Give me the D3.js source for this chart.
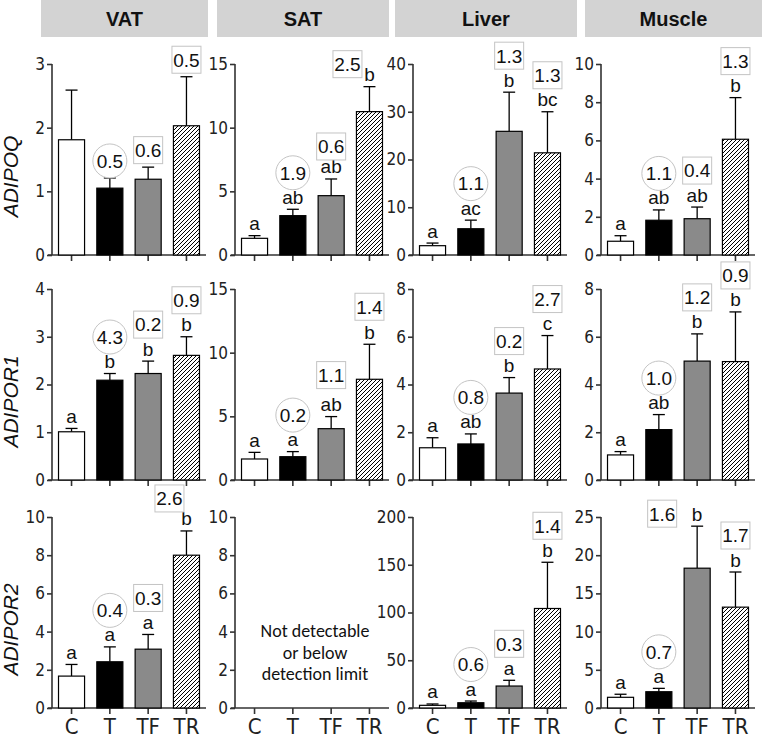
<!DOCTYPE html>
<html><head><meta charset="utf-8">
<script src="https://cdn.jsdelivr.net/npm/d3@7"></script>
<style>body{margin:0;background:#fff} svg{display:block}</style>
</head><body><svg id="c" width="762" height="739"></svg>
<script>
// ---------------- data ----------------
const groups = ["C", "T", "TF", "TR"];
const tissues = ["VAT", "SAT", "Liver", "Muscle"];
const genes = ["ADIPOQ", "ADIPOR1", "ADIPOR2"];

// axis maxima and tick steps [gene][tissue]
const yMax  = [[3, 15, 40, 10], [4, 15, 8, 8], [10, 10, 200, 25]];
const yStep = [[1, 5, 10, 2], [1, 5, 2, 2], [2, 2, 50, 5]];

// ADIPOQ  (VAT, SAT, Liver, Muscle)
const adipoqMean = [[1.81, 1.05, 1.19, 2.03], [1.31, 3.09, 4.66, 11.26], [1.95, 5.5, 25.9, 21.4], [0.72, 1.82, 1.90, 6.06]];
const adipoqSem  = [[0.78, 0.16, 0.19, 0.77], [0.21, 0.50, 1.31, 1.96], [0.55, 1.8, 8.2, 8.6], [0.29, 0.54, 0.61, 2.18]];
const adipoqLetters = [["", "", "", ""], ["a", "ab", "ab", "b"], ["a", "ac", "b", "bc"], ["a", "ab", "ab", "b"]];
const adipoqFold = [[null, "0.5", "0.6", "0.5"], [null, "1.9", "0.6", "2.5"], [null, "1.1", "1.3", "1.3"], [null, "1.1", "0.4", "1.3"]];

// ADIPOR1
const adipor1Mean = [[1.01, 2.09, 2.23, 2.61], [1.65, 1.83, 4.03, 7.91], [1.35, 1.51, 3.64, 4.65], [1.05, 2.11, 4.98, 4.96]];
const adipor1Sem  = [[0.07, 0.14, 0.26, 0.39], [0.52, 0.40, 0.95, 2.75], [0.42, 0.42, 0.65, 1.40], [0.14, 0.63, 1.14, 2.08]];
const adipor1Letters = [["a", "b", "b", "b"], ["a", "a", "ab", "b"], ["a", "ab", "b", "c"], ["a", "ab", "b", "b"]];
const adipor1Fold = [[null, "4.3", "0.2", "0.9"], [null, "0.2", "1.1", "1.4"], [null, "0.8", "0.2", "2.7"], [null, "1.0", "1.2", "0.9"]];

// ADIPOR2 (SAT not detectable)
const adipor2Mean = [[1.67, 2.42, 3.08, 8.0], null, [2.8, 5.5, 23, 104.2], [1.4, 2.13, 18.3, 13.2]];
const adipor2Sem  = [[0.61, 0.78, 0.77, 1.27], null, [1.4, 1.8, 6, 48.4], [0.4, 0.44, 5.5, 4.6]];
const adipor2Letters = [["a", "a", "a", "b"], null, ["a", "a", "a", "b"], ["a", "a", "b", "b"]];
const adipor2Fold = [[null, "0.4", "0.3", "2.6"], null, [null, "0.6", "0.3", "1.4"], [null, "0.7", "1.6", "1.7"]];

const notDetectedText = ["Not detectable", "or below", "detection limit"];

// ---------------- layout / style ----------------
const means = [adipoqMean, adipor1Mean, adipor2Mean];
const sems = [adipoqSem, adipor1Sem, adipor2Sem];
const letters = [adipoqLetters, adipor1Letters, adipor2Letters];
const folds = [adipoqFold, adipor1Fold, adipor2Fold];

const colX = [52, 235, 413, 601];
const rowTop = [64, 289, 517];
const plotH = 191;
const plotW = 154;
const headerX = [[41, 208], [217, 389], [395, 577], [585, 762]];
const fills = ["#ffffff", "#000000", "#8a8a8a", "url(#hatch)"];
// label nudges (layout only): [gene, tissue, group, dx, dy]
const nudges = [[0, 1, 3, -22, 14], [2, 0, 3, -17, 4], [2, 3, 2, -35, 24], [1, 1, 2, 0, -5], [1, 1, 3, 0, -1], [0, 1, 2, 0, 4]];

const numFont = "'Liberation Sans Narrow','DejaVu Sans Condensed','Liberation Sans',Arial,sans-serif";
const textFont = "'Liberation Sans',Arial,sans-serif";
const annFont = 19;

const svg = d3.select("#c");
const defs = svg.append("defs");
const pat = defs.append("pattern").attr("id", "hatch").attr("patternUnits", "userSpaceOnUse")
  .attr("width", 4).attr("height", 4);
pat.append("rect").attr("width", 4).attr("height", 4).attr("fill", "#fff");
pat.append("path").attr("d", "M-1,1 l2,-2 M0,4 l4,-4 M3,5 l2,-2")
  .attr("stroke", "#000").attr("stroke-width", 1);

// headers
tissues.forEach((t, i) => {
  const [x0, x1] = headerX[i];
  svg.append("rect").attr("x", x0).attr("y", 0).attr("width", x1 - x0).attr("height", 37).attr("fill", "#d3d3d3");
  svg.append("text").attr("x", (x0 + x1) / 2).attr("y", 26).attr("text-anchor", "middle")
    .attr("font-family", textFont).attr("font-weight", "bold").attr("font-size", 20).attr("fill", "#111").text(t);
});

// row labels
genes.forEach((g, r) => {
  svg.append("text").attr("transform", `translate(18,${rowTop[r] + plotH / 2 + 17}) rotate(-90)`)
    .attr("text-anchor", "middle").attr("font-family", textFont).attr("font-style", "italic")
    .attr("font-size", 21).attr("fill", "#111").text(g);
});

genes.forEach((g, r) => {
  tissues.forEach((t, c) => {
    const ax = colX[c];
    const y = d3.scaleLinear().domain([0, yMax[r][c]]).range([rowTop[r] + plotH, rowTop[r]]);
    const x = d3.scaleBand().domain(groups).range([ax, ax + plotW]).paddingInner(0.32).paddingOuter(0.17);
    const gp = svg.append("g");

    // y axis
    const yAxis = d3.axisLeft(y).tickValues(d3.range(0, yMax[r][c] + 1e-9, yStep[r][c]))
      .tickSize(5).tickPadding(2).tickFormat(d3.format("d"));
    const ya = gp.append("g").attr("transform", `translate(${ax},0)`).call(yAxis);
    ya.select(".domain").attr("d", `M0,${y(0)}V${y(yMax[r][c])}`);
    ya.selectAll("text").attr("font-family", numFont).attr("font-size", 17).attr("fill", "#222");

    // x axis
    const xAxis = d3.axisBottom(x).tickSize(6).tickPadding(3);
    const xa = gp.append("g").attr("transform", `translate(0,${y(0)})`).call(xAxis);
    xa.select(".domain").attr("d", `M${ax - 4},0H${ax + plotW}`);
    xa.selectAll("text").attr("font-family", numFont).attr("font-size", 22).attr("fill", "#222")
      .attr("dy", "0.78em").style("display", r === 2 ? null : "none");
    gp.selectAll(".domain, .tick line").attr("stroke", "#333").attr("stroke-width", 1.6);

    const m = means[r][c];
    if (!m) {
      notDetectedText.forEach((s, i) => {
        gp.append("text").attr("x", ax + 80).attr("y", rowTop[r] + 120 + i * 21.5).attr("text-anchor", "middle")
          .attr("font-family", "Carlito,'Open Sans','Noto Sans',sans-serif").attr("font-size", 18).attr("fill", "#111").text(s);
      });
      return;
    }
    const s = sems[r][c];
    const bw = x.bandwidth();
    groups.forEach((gname, i) => {
      const cx = x(gname) + bw / 2;
      const top = y(m[i] + s[i]);
      // error bar
      gp.append("line").attr("x1", cx).attr("x2", cx).attr("y1", y(m[i])).attr("y2", top)
        .attr("stroke", "#000").attr("stroke-width", 1.3);
      gp.append("line").attr("x1", cx - 6).attr("x2", cx + 6).attr("y1", top).attr("y2", top)
        .attr("stroke", "#000").attr("stroke-width", 1.3);
    });
    gp.selectAll("rect.bar").data(groups).join("rect").attr("class", "bar")
      .attr("x", d => x(d)).attr("width", bw)
      .attr("y", (d, i) => y(m[i])).attr("height", (d, i) => y(0) - y(m[i]))
      .attr("fill", (d, i) => fills[i]).attr("stroke", "#000").attr("stroke-width", 1.2);

    groups.forEach((gname, i) => {
      const cx = x(gname) + bw / 2;
      const top = y(m[i] + s[i]);
      const lt = letters[r][c][i];
      const base = top - 5.5;
      if (lt) {
        gp.append("text").attr("x", cx).attr("y", base).attr("text-anchor", "middle")
          .attr("font-family", textFont).attr("font-size", annFont).attr("fill", "#111").text(lt);
      }
      const f = folds[r][c][i];
      if (f) {
        let lx = cx, ly = lt ? base - 31 : top - 17;
        const nd = nudges.find(n => n[0] === r && n[1] === c && n[2] === i);
        if (nd) { lx += nd[3]; ly += nd[4]; }
        const lg = gp.append("g");
        const shape = lg.append(i === 1 ? "circle" : "rect");
        lg.append("text").attr("x", lx).attr("y", ly).attr("dy", "0.36em").attr("text-anchor", "middle")
          .attr("font-family", textFont).attr("font-size", annFont).attr("fill", "#111").text(f);
        if (i === 1) {
          shape.attr("cx", lx).attr("cy", ly).attr("r", 17)
            .attr("fill", "#fff").attr("stroke", "#c4c4c4").attr("stroke-width", 1);
        } else {
          shape.attr("x", lx - 14.5).attr("y", ly - 13.5).attr("width", 29).attr("height", 27)
            .attr("fill", "#fff").attr("stroke", "#c4c4c4").attr("stroke-width", 1);
        }
      }
    });
  });
});
</script></body></html>
